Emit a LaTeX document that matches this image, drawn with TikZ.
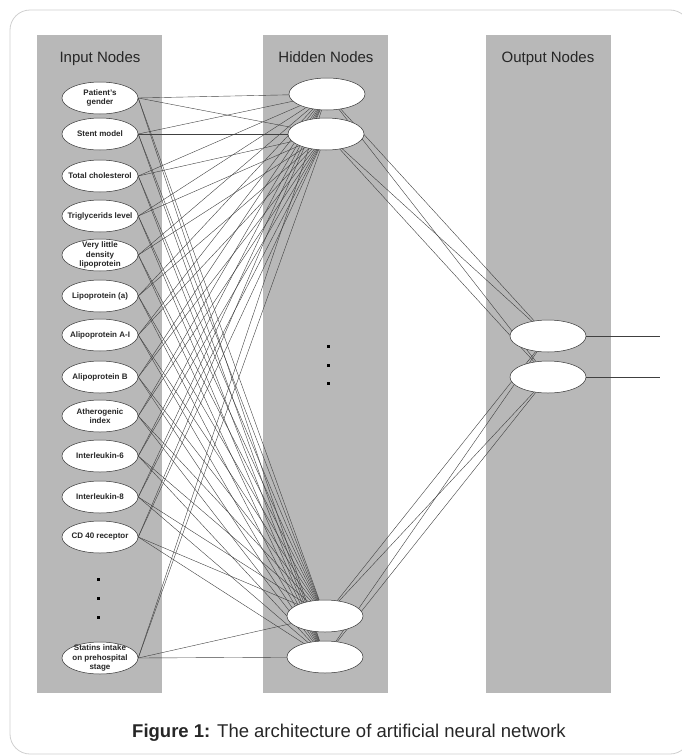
\documentclass[tikz,border=0pt]{standalone}
\usepackage{fontspec}
\setmainfont{Liberation Sans}
\usetikzlibrary{shapes.geometric,backgrounds}
\definecolor{bandgray}{RGB}{184,184,184}
\definecolor{framegray}{RGB}{208,208,208}

\begin{document}
\begin{tikzpicture}
  [x=1pt,y=-1pt,
   band/.style={fill=bandgray,draw=none},
   unit/.style={ellipse,draw=black!80,line width=.5pt,fill=white,minimum width=76pt,minimum height=32pt,inner sep=0pt},
   txt/.style={font=\bfseries\fontsize{8}{9.5}\selectfont,align=center,inner sep=0pt,text=black!85},
   head/.style={font=\fontsize{15}{18}\selectfont,text=black!85,anchor=base},
   dot/.style={rectangle,fill=black,inner sep=0pt,minimum size=3pt},
   link/.style={black!75,line width=.4pt}]
  \useasboundingbox (0,0) rectangle (681,755);
  \clip (0,0) rectangle (681,755);

  \node[head] (tin) at (100,62) {Input Nodes};
  \node[head] (thid) at (326,62) {Hidden Nodes};
  \node[head] (tout) at (548,62) {Output Nodes};

  % input layer
  \node[unit,label={[txt]center:Patient's\\gender}] (i1) at (100,98) {};
  \node[unit,label={[txt]center:Stent model}] (i2) at (100,134) {};
  \node[unit,label={[txt]center:Total cholesterol}] (i3) at (100,176) {};
  \node[unit,label={[txt]center:Triglycerids level}] (i4) at (100,216) {};
  \node[unit,label={[txt]center:Very little\\density\\lipoprotein}] (i5) at (100,255) {};
  \node[unit,label={[txt]center:Lipoprotein (a)}] (i6) at (100,296) {};
  \node[unit,label={[txt]center:Alipoprotein A-I}] (i7) at (100,335) {};
  \node[unit,label={[txt]center:Alipoprotein B}] (i8) at (100,377) {};
  \node[unit,label={[txt]center:Atherogenic\\index}] (i9) at (100,416) {};
  \node[unit,label={[txt]center:Interleukin-6}] (i10) at (100,456) {};
  \node[unit,label={[txt]center:Interleukin-8}] (i11) at (100,497) {};
  \node[unit,label={[txt]center:CD 40 receptor}] (i12) at (100,537) {};
  \node[unit,label={[txt]center:Statins intake\\on prehospital\\stage}] (i13) at (100,658) {};
  \node[dot] (ia) at (98,579) {};
  \node[dot] (ib) at (98,598) {};
  \node[dot] (ic) at (98,617) {};

  % hidden layer
  \node[unit] (h1) at (327,94) {};
  \node[unit] (h2) at (326,134) {};
  \node[unit] (h3) at (325,616) {};
  \node[unit] (h4) at (325,657) {};
  \node[dot] (ha) at (328,346) {};
  \node[dot] (hb) at (328,365) {};
  \node[dot] (hc) at (328,383) {};

  % output layer
  \node[unit] (o1) at (548,336) {};
  \node[unit] (o2) at (548,377) {};
  \coordinate (y1) at (660,336);
  \coordinate (y2) at (660,377);

  \node[font=\fontsize{18.5}{22}\selectfont,text=black!85] (cap) at (349,733)
    {\textbf{Figure 1:} The architecture of artificial neural network};

  \begin{scope}[on background layer]
    \draw[framegray,line width=.8pt,rounded corners=20pt] (10,10) rectangle (690,754);
    % columns
    \fill[band] (37,35) rectangle (162,693);
    \fill[band] (263,35) rectangle (388,693);
    \fill[band] (486,35) rectangle (611,693);
    \foreach \from in {i1,i2,i3,i4,i5,i6,i7,i8,i9,i10,i11,i12,i13}
      \foreach \to in {h1,h2,h3,h4}
        \draw[link] (\from.east) -- (\to);
    \foreach \from in {h1,h2,h3,h4}
      \foreach \to in {o1,o2}
        \draw[link] (\from) -- (\to);
    \draw[link] (o1) -- (y1);
    \draw[link] (o2) -- (y2);
  \end{scope}
\end{tikzpicture}
\end{document}
